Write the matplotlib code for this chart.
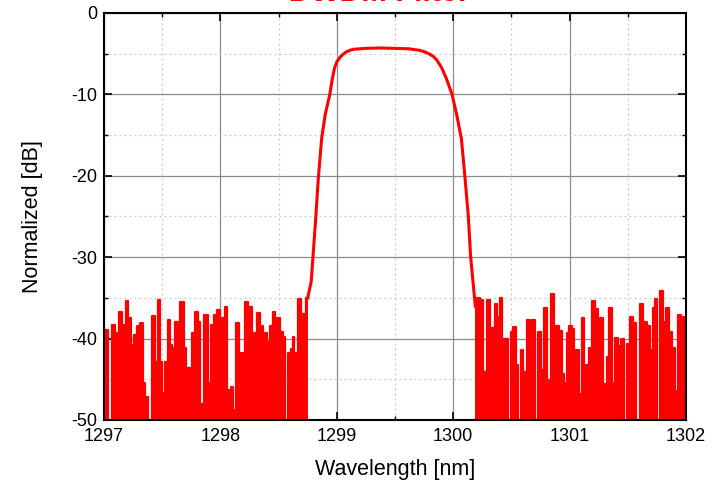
import matplotlib
matplotlib.use("Agg")
from matplotlib import pyplot as plt
from matplotlib.ticker import MultipleLocator

plt.rcParams['font.family'] = ['Liberation Sans', 'DejaVu Sans']
plt.rcParams['axes.unicode_minus'] = False

# noise floor left of the passband (values below -50 are off the chart)
left_wl = [1297.000, 1297.017, 1297.049, 1297.080, 1297.100, 1297.118, 1297.140, 1297.163,
           1297.180, 1297.198, 1297.221, 1297.241, 1297.266, 1297.295, 1297.321, 1297.344,
           1297.358, 1297.395, 1297.430, 1297.453, 1297.472, 1297.492, 1297.504, 1297.518,
           1297.535, 1297.556, 1297.573, 1297.590, 1297.604, 1297.621, 1297.644, 1297.670,
           1297.696, 1297.716, 1297.736, 1297.753, 1297.767, 1297.799, 1297.819, 1297.833,
           1297.845, 1297.879, 1297.902, 1297.913, 1297.928, 1297.956, 1297.985, 1298.005,
           1298.020, 1298.051, 1298.065, 1298.082, 1298.106, 1298.117, 1298.125, 1298.148,
           1298.168, 1298.186, 1298.203, 1298.226, 1298.254, 1298.283, 1298.303, 1298.326,
           1298.357, 1298.372, 1298.395, 1298.412, 1298.420, 1298.438, 1298.463, 1298.478,
           1298.497, 1298.529, 1298.544, 1298.566, 1298.595, 1298.612, 1298.629, 1298.641,
           1298.655, 1298.678, 1298.707, 1298.729, 1298.750]
left_db = [-41.6, -39.0, -60, -38.3, -60, -39.3, -36.7, -40.2,
           -38.3, -35.4, -37.5, -40.8, -39.6, -38.5, -38.1, -45.5,
           -47.2, -60, -37.2, -42.9, -35.3, -42.9, -60, -46.7,
           -42.9, -37.7, -40.8, -41.2, -60, -38.0, -40.8, -35.5,
           -41.2, -43.6, -43.6, -48.5, -39.3, -36.7, -38.0, -60,
           -48.0, -37.1, -45.5, -60, -38.3, -37.1, -36.5, -41.8,
           -37.5, -36.1, -60, -46.3, -46.0, -60, -48.8, -38.1,
           -55, -41.8, -42.4, -35.5, -36.1, -39.3, -60, -36.8,
           -38.5, -44.2, -39.3, -40.4, -60, -38.5, -36.7, -41.3,
           -37.5, -39.2, -39.8, -60, -41.8, -41.3, -39.8, -47.0,
           -41.8, -35.1, -37.0, -37.5, -35.0]

# filter passband
pass_wl = [1298.750, 1298.78, 1298.80, 1298.82, 1298.84, 1298.87, 1298.90, 1298.94,
           1298.96, 1298.98, 1299.00, 1299.03, 1299.06, 1299.085, 1299.12, 1299.15,
           1299.20, 1299.25, 1299.37, 1299.50, 1299.62, 1299.715, 1299.75, 1299.79,
           1299.83, 1299.86, 1299.90, 1299.94, 1299.965, 1299.99, 1300.03, 1300.07,
           1300.10, 1300.13, 1300.15, 1300.17, 1300.19]
pass_db = [-35.0, -33.0, -29.0, -25.0, -20.5, -15.4, -12.5, -10.0,
           -8.2, -6.8, -6.0, -5.4, -5.0, -4.75, -4.55, -4.45,
           -4.4, -4.35, -4.3, -4.35, -4.4, -4.6, -4.75, -5.0,
           -5.35, -5.8, -6.7, -8.0, -9.0, -10.0, -12.5, -15.4,
           -20.0, -25.0, -30.0, -33.0, -36.0]

# noise floor right of the passband
right_wl = [1300.190, 1300.216, 1300.245, 1300.267, 1300.285, 1300.302, 1300.325, 1300.345,
            1300.368, 1300.388, 1300.411, 1300.430, 1300.454, 1300.482, 1300.508, 1300.528,
            1300.546, 1300.571, 1300.591, 1300.617, 1300.645, 1300.668, 1300.694, 1300.717,
            1300.739, 1300.765, 1300.789, 1300.817, 1300.834, 1300.855, 1300.874, 1300.897,
            1300.926, 1300.945, 1300.957, 1300.966, 1300.983, 1301.006, 1301.029, 1301.046,
            1301.069, 1301.092, 1301.121, 1301.135, 1301.152, 1301.181, 1301.207, 1301.233,
            1301.253, 1301.276, 1301.298, 1301.313, 1301.324, 1301.353, 1301.381, 1301.401,
            1301.427, 1301.453, 1301.479, 1301.504, 1301.530, 1301.556, 1301.588, 1301.619,
            1301.648, 1301.679, 1301.705, 1301.722, 1301.742, 1301.768, 1301.791, 1301.814,
            1301.837, 1301.863, 1301.891, 1301.912, 1301.943, 1301.966, 1301.986, 1302.000]
right_db = [-36.0, -35.0, -35.3, -44.1, -60, -35.3, -38.7, -38.7,
            -35.8, -37.3, -35.0, -40.1, -40.1, -60, -39.2, -38.6,
            -43.2, -60, -41.4, -44.1, -37.7, -39.1, -37.7, -55,
            -39.2, -43.9, -36.2, -60, -45.1, -34.5, -45.0, -38.4,
            -39.1, -44.3, -60, -45.5, -39.3, -38.5, -38.8, -45.5,
            -41.4, -46.8, -37.5, -60, -43.2, -41.2, -35.4, -36.4,
            -45.4, -37.5, -45.6, -60, -42.2, -36.2, -45.4, -39.9,
            -40.9, -40.1, -60, -40.7, -37.3, -38.1, -60, -35.8,
            -38.0, -38.4, -41.4, -36.3, -35.1, -60, -34.2, -38.0,
            -36.3, -39.2, -41.1, -46.4, -37.1, -40.7, -37.4, -37.4]

red = '#ff0000'

fig = plt.figure(figsize=(7.15, 4.8), dpi=100)
ax = fig.add_axes([0.1455, 0.125, 0.8139, 0.848])

# the noise is so dense that it reads as solid red spikes
for wl, db in [(left_wl, left_db), (right_wl, right_db)]:
    ax.fill_between(wl, db, -60, step='mid', color=red, lw=0)
    ax.plot(wl, db, color=red, lw=1.6, drawstyle='steps-mid')
ax.plot(pass_wl, pass_db, color=red, lw=2.2, solid_joinstyle='round')

ax.set_xlim(1297, 1302)
ax.set_ylim(-50, 0)
ax.xaxis.set_major_locator(MultipleLocator(1))
ax.xaxis.set_minor_locator(MultipleLocator(0.5))
ax.yaxis.set_major_locator(MultipleLocator(10))
ax.yaxis.set_minor_locator(MultipleLocator(5))

ax.grid(which='major', color='#8c8c8c', lw=0.9, ls='-')
ax.grid(which='minor', color='#c8c8c8', lw=0.9, ls=(0, (1.5, 2.5)))
ax.set_axisbelow(True)

ax.tick_params(which='both', direction='in', top=True, right=True, labelsize=13)
ax.tick_params(axis='x', pad=6)
ax.tick_params(axis='y', pad=5)
ax.tick_params(which='major', length=6, width=1.2)
ax.tick_params(which='minor', length=3, width=1.0)
for s in ax.spines.values():
    s.set_linewidth(1.5)

ax.set_xlabel('Wavelength [nm]', fontsize=15.5, labelpad=10)
ax.set_ylabel('Normalized [dB]', fontsize=15.5, labelpad=20)

fig.text(0.531, 1 - 1 / 480, 'DWDM Filter', ha='center', va='baseline',
         fontsize=22, fontweight='bold', color=red)

plt.savefig('out.png', dpi=100)
